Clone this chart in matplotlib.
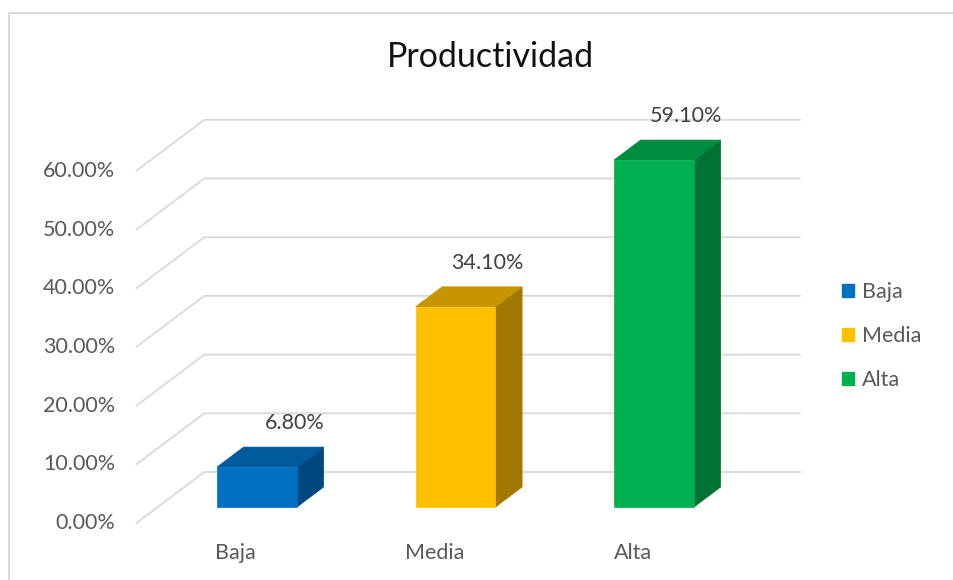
import numpy as np
import matplotlib
matplotlib.use("Agg")
import matplotlib.pyplot as plt
from matplotlib.patches import Polygon, Patch
from matplotlib.lines import Line2D
from matplotlib.transforms import IdentityTransform

# ---- data ----
title = "Productividad"
categories = ["Baja", "Media", "Alta"]
values = [6.8, 34.1, 59.1]
value_labels = ["6.80%", "34.10%", "59.10%"]
yticks = [0, 10, 20, 30, 40, 50, 60]
ytick_labels = ["0.00%", "10.00%", "20.00%", "30.00%", "40.00%", "50.00%", "60.00%"]

# ---- styles ----
front_colors = ["#0070C0", "#FFC000", "#00B050"]
top_colors = ["#005A9C", "#C79500", "#008C3E"]
side_colors = ["#00487F", "#A27900", "#007233"]
grid_color = "#D9D9D9"
text_gray = "#595959"
FS = 15.5

plt.rcParams['font.family'] = ['Lato', 'DejaVu Sans']

W, H = 954, 580
fig = plt.figure(figsize=(W / 100, H / 100), dpi=100)
fig.patch.set_facecolor("white")
ax = fig.add_axes([157.75 / W, 73 / H, 595.5 / W, 352.2 / H])
ax.set_xlim(-0.5, 2.5)
ax.set_ylim(0, 60)
ax.axis("off")

DX, DY = 1.33, 1.0     # screen direction of depth (pixels per depth unit)
BAR_DEPTH = 20
WALL = 35
FRONT = -16
BAR_W = 0.403
ID = IdentityTransform()


def proj(x, v, d=0.0):
    px, py = ax.transData.transform((x, v))
    return np.array([px + d * DX, py + d * DY])


# gridlines: back wall + left side wall
for v, lab in zip(yticks, ytick_labels):
    fl = proj(-0.5, v, FRONT)
    bl = proj(-0.5, v, WALL)
    br = proj(2.5, v, WALL)
    ax.add_line(Line2D([fl[0], bl[0], br[0]], [fl[1], bl[1], br[1]],
                       transform=ID, color=grid_color, lw=1.3,
                       clip_on=False, zorder=1))
    ax.text(fl[0] - 21, fl[1], lab, transform=ID, ha="right", va="center",
            fontsize=FS, color=text_gray, clip_on=False)

# bars
for i, (v, fc, tc, sc, vl) in enumerate(zip(values, front_colors, top_colors,
                                            side_colors, value_labels)):
    x0, x1 = i - BAR_W / 2, i + BAR_W / 2
    front = [proj(x0, 0), proj(x1, 0), proj(x1, v), proj(x0, v)]
    top = [proj(x0, v), proj(x1, v), proj(x1, v, BAR_DEPTH), proj(x0, v, BAR_DEPTH)]
    side = [proj(x1, 0), proj(x1, 0, BAR_DEPTH), proj(x1, v, BAR_DEPTH), proj(x1, v)]
    for pts, c in ((side, sc), (top, tc), (front, fc)):
        ax.add_patch(Polygon(pts, closed=True, transform=ID, facecolor=c,
                             edgecolor=c, lw=0.5, clip_on=False, zorder=3))
    tp = proj(x1, v)
    ax.text(tp[0] + 28, tp[1] + 44, vl, transform=ID, ha="right", va="center",
            fontsize=FS, color="#404040", clip_on=False, zorder=4)
    cp = proj(i, 0, FRONT)
    ax.text(cp[0], cp[1] - 30, categories[i], transform=ID, ha="center",
            va="center", fontsize=FS, color=text_gray, clip_on=False)

# title
fig.text(490 / W, 1 - 57 / H, title, ha="center", va="center",
         fontsize=24.5, color="#111111")

# legend
handles = [Patch(facecolor=c, edgecolor=c) for c in front_colors]
fig.legend(handles, categories, loc="center left",
           bbox_to_anchor=(833 / W, 1 - 336 / H), frameon=False,
           fontsize=FS, handlelength=0.58, handleheight=0.58,
           handletextpad=0.35, labelspacing=1.12, borderaxespad=0,
           labelcolor=text_gray)

# chart border (left and top visible)
fig.add_artist(Line2D([9 / W, 9 / W, 1], [0, 1 - 13 / H, 1 - 13 / H],
                      transform=fig.transFigure, color=grid_color, lw=1.5))

fig.savefig("out.png", dpi=100, facecolor="white")
